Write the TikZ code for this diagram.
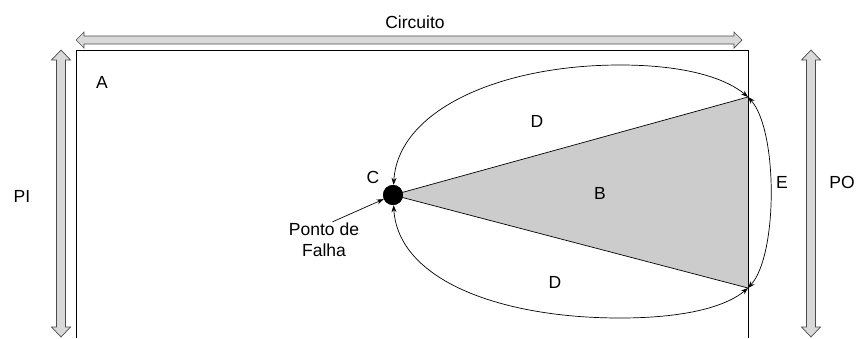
\documentclass[tikz,border=0pt]{standalone}
\usepackage{fontspec}
\setmainfont{Liberation Sans}
\usetikzlibrary{arrows.meta}

\begin{document}
\begin{tikzpicture}[x=1pt, y=-1pt, font=\fontsize{17.5}{21}\selectfont,
    fatarrow/.style={draw=black!70, fill=black!15, line width=0.7pt},
    link/.style={{Stealth[length=7pt,width=5pt]}-{Stealth[length=7pt,width=5pt]}, line width=0.7pt}]
    \useasboundingbox (0,0) rectangle (857,338);
    % cone of the fault
    \node[circle, fill=black, minimum size=20pt, inner sep=0pt] (fault) at (393,195) {};
    \coordinate (bTop) at (748,97);
    \coordinate (bBot) at (748,288);
    \fill[black!20] (fault.center) -- (bTop) -- (bBot) -- cycle;
    \draw[line width=0.7pt] (fault.center) -- (bTop) (fault.center) -- (bBot);
    % circuit box
    \draw[line width=0.7pt] (76,338) |- (748,50) -- (748,338);
    \node[circle, fill=black, minimum size=20pt, inner sep=0pt] at (fault) {};
    % paths D and E
    \draw[link] (bTop) .. controls (728,80) and (690,65) .. (620,65)
        .. controls (500,65) and (398,110) .. (fault);
    \draw[link] (bBot) .. controls (728,305) and (690,318) .. (620,318)
        .. controls (500,318) and (398,280) .. (fault);
    \draw[link] (bTop) .. controls (778,130) and (778,255) .. (bBot);
    % PI, PO and circuit arrows
    \draw[fatarrow] (76,40) -- (84,32) -- (84,36) -- (734,36) -- (734,32) -- (742,40)
        -- (734,48) -- (734,44) -- (84,44) -- (84,48) -- cycle;
    \foreach \x in {61,811}
        \draw[fatarrow] (\x,50) -- (\x+9.5,60) -- (\x+4.5,60) -- (\x+4.5,327) -- (\x+9.5,327)
            -- (\x,337) -- (\x-9.5,327) -- (\x-4.5,327) -- (\x-4.5,60) -- (\x-9.5,60) -- cycle;
    % labels
    \node (circ) at (415,22) {Circuito};
    \node (lblA) at (102,82) {A};
    \node (lblB) at (600,193) {B};
    \node (lblC) at (373,177) {C};
    \node (lblD1) at (537,121) {D};
    \node (lblD2) at (555,282) {D};
    \node (lblE) at (782,182) {E};
    \node (pi) at (22,196) {PI};
    \node (po) at (842,182) {PO};
    \node[align=center, inner sep=1pt] (falha) at (324,240) {Ponto de\\Falha};
    \draw[-{Stealth[length=7pt,width=5pt]}, line width=0.7pt] (falha.65) -- (fault);
\end{tikzpicture}
\end{document}
